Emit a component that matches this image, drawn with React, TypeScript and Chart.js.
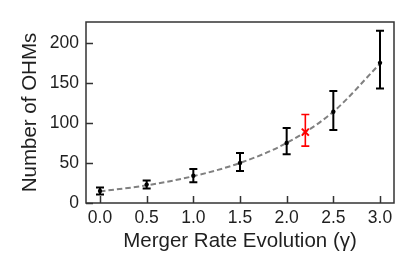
import React, { useEffect, useRef } from "react";
import { Chart, registerables } from "chart.js";

Chart.register(...registerables);

const gammaValues = [0.0, 0.5, 1.0, 1.5, 2.0, 2.5, 3.0];
const ohmCounts = [15, 23, 34, 50, 75, 114, 175];
const errLow = [10.5, 18, 26, 40, 61, 91, 143];
const errHigh = [19.5, 28, 42.5, 62.5, 93.5, 140, 215];

const fitGamma = [0.0, 0.5, 1.0, 1.5, 2.0, 2.5, 3.0];
const fitCounts = [14.5, 22, 33.5, 50, 75, 114, 174];

const redGamma = [2.2];
const redCount = [88.5];
const redLow = [71];
const redHigh = [110.5];

const xTicks = [0, 0.5, 1.0, 1.5, 2.0, 2.5, 3.0];
const yTicks = [0, 50, 100, 150, 200];

const FONT = "'Liberation Sans', Arial, sans-serif";
const TEXT = "#1f1f1f";
const FRAME = "#333333";

export default function App() {
  const ref = useRef<HTMLCanvasElement | null>(null);

  useEffect(() => {
    document.body.style.margin = "0";
    const canvas = ref.current;
    if (!canvas) return;

    const errorBarPlugin = {
      id: "errorBars",
      afterDatasetDraw(chart: any, args: any) {
        if (args.index !== 0) return;
        const ctx = chart.ctx;
        const xs = chart.scales.x;
        const ys = chart.scales.y;
        const drawBars = (xv: number[], lo: number[], hi: number[], color: string, lw: number, cap: number) => {
          ctx.save();
          ctx.strokeStyle = color;
          ctx.lineWidth = lw;
          for (let i = 0; i < xv.length; i++) {
            const px = xs.getPixelForValue(xv[i]);
            const p1 = ys.getPixelForValue(lo[i]);
            const p2 = ys.getPixelForValue(hi[i]);
            ctx.beginPath();
            ctx.moveTo(px, p1);
            ctx.lineTo(px, p2);
            ctx.moveTo(px - cap, p1);
            ctx.lineTo(px + cap, p1);
            ctx.moveTo(px - cap, p2);
            ctx.lineTo(px + cap, p2);
            ctx.stroke();
          }
          ctx.restore();
        };
        drawBars(gammaValues, errLow, errHigh, "#000000", 2, 4);
        drawBars(redGamma, redLow, redHigh, "#ff0000", 1.6, 4);
      },
    };

    const framePlugin = {
      id: "frameTicks",
      afterDraw(chart: any) {
        const ctx = chart.ctx;
        const a = chart.chartArea;
        const xs = chart.scales.x;
        const ys = chart.scales.y;
        ctx.save();
        ctx.strokeStyle = FRAME;
        ctx.lineWidth = 1.5;
        ctx.beginPath();
        for (const t of xTicks) {
          const px = Math.round(xs.getPixelForValue(t)) + 0.5;
          ctx.moveTo(px, a.bottom);
          ctx.lineTo(px, a.bottom - 7);
        }
        for (const t of yTicks) {
          const py = Math.round(ys.getPixelForValue(t)) + 0.5;
          ctx.moveTo(a.left, py);
          ctx.lineTo(a.left + 7, py);
        }
        ctx.stroke();
        ctx.strokeRect(a.left, a.top, a.right - a.left, a.bottom - a.top);
        ctx.restore();
      },
    };

    const chart = new Chart(canvas, {
      type: "scatter",
      data: {
        datasets: [
          {
            type: "line",
            data: fitGamma.map((g, i) => ({ x: g, y: fitCounts[i] })),
            borderColor: "#808080",
            borderWidth: 2,
            borderDash: [5.5, 3],
            pointRadius: 0,
            cubicInterpolationMode: "monotone",
            fill: false,
            order: 3,
          } as any,
          {
            data: gammaValues.map((g, i) => ({ x: g, y: ohmCounts[i] })),
            backgroundColor: "#000000",
            borderColor: "#000000",
            pointRadius: 2.2,
            borderWidth: 0,
            order: 2,
          },
          {
            data: redGamma.map((g, i) => ({ x: g, y: redCount[i] })),
            pointStyle: "crossRot",
            borderColor: "#ff0000",
            backgroundColor: "#ff0000",
            pointRadius: 5,
            borderWidth: 2,
            order: 1,
          },
        ],
      },
      options: {
        responsive: false,
        animation: false,
        events: [],
        layout: { padding: { top: 22, right: 21, left: 0, bottom: 0 } },
        plugins: { legend: { display: false }, tooltip: { enabled: false } },
        scales: {
          x: {
            type: "linear",
            min: -0.15,
            max: 3.15,
            grid: { display: false, drawTicks: false, tickLength: 0 },
            border: { display: false },
            afterBuildTicks: (s: any) => {
              s.ticks = xTicks.map((v) => ({ value: v }));
            },
            afterFit: (s: any) => {
              s.height = 74;
            },
            ticks: {
              color: TEXT,
              font: { family: FONT, size: 17.5 },
              padding: 5,
              maxRotation: 0,
              callback: (v: any) => Number(v).toFixed(1),
            },
            title: {
              display: true,
              text: "Merger Rate Evolution (γ)",
              color: TEXT,
              font: { family: FONT, size: 20.5 },
              padding: { top: 0, bottom: 23 },
            },
          },
          y: {
            type: "linear",
            min: 0,
            max: 226,
            grid: { display: false, drawTicks: false, tickLength: 0 },
            border: { display: false },
            afterBuildTicks: (s: any) => {
              s.ticks = yTicks.map((v) => ({ value: v }));
            },
            afterFit: (s: any) => {
              s.width = 86;
            },
            ticks: {
              color: TEXT,
              font: { family: FONT, size: 17.5 },
              padding: 7,
              callback: (v: any) => String(v),
            },
            title: {
              display: true,
              text: "Number of OHMs",
              color: TEXT,
              font: { family: FONT, size: 20.5 },
              padding: { top: 18, bottom: 0 },
            },
          },
        },
      },
      plugins: [errorBarPlugin, framePlugin],
    });

    return () => chart.destroy();
  }, []);

  return (
    <div style={{ position: "absolute", left: 0, top: 0, width: 415, height: 277 }}>
      <canvas ref={ref} width={415} height={277} />
    </div>
  );
}
